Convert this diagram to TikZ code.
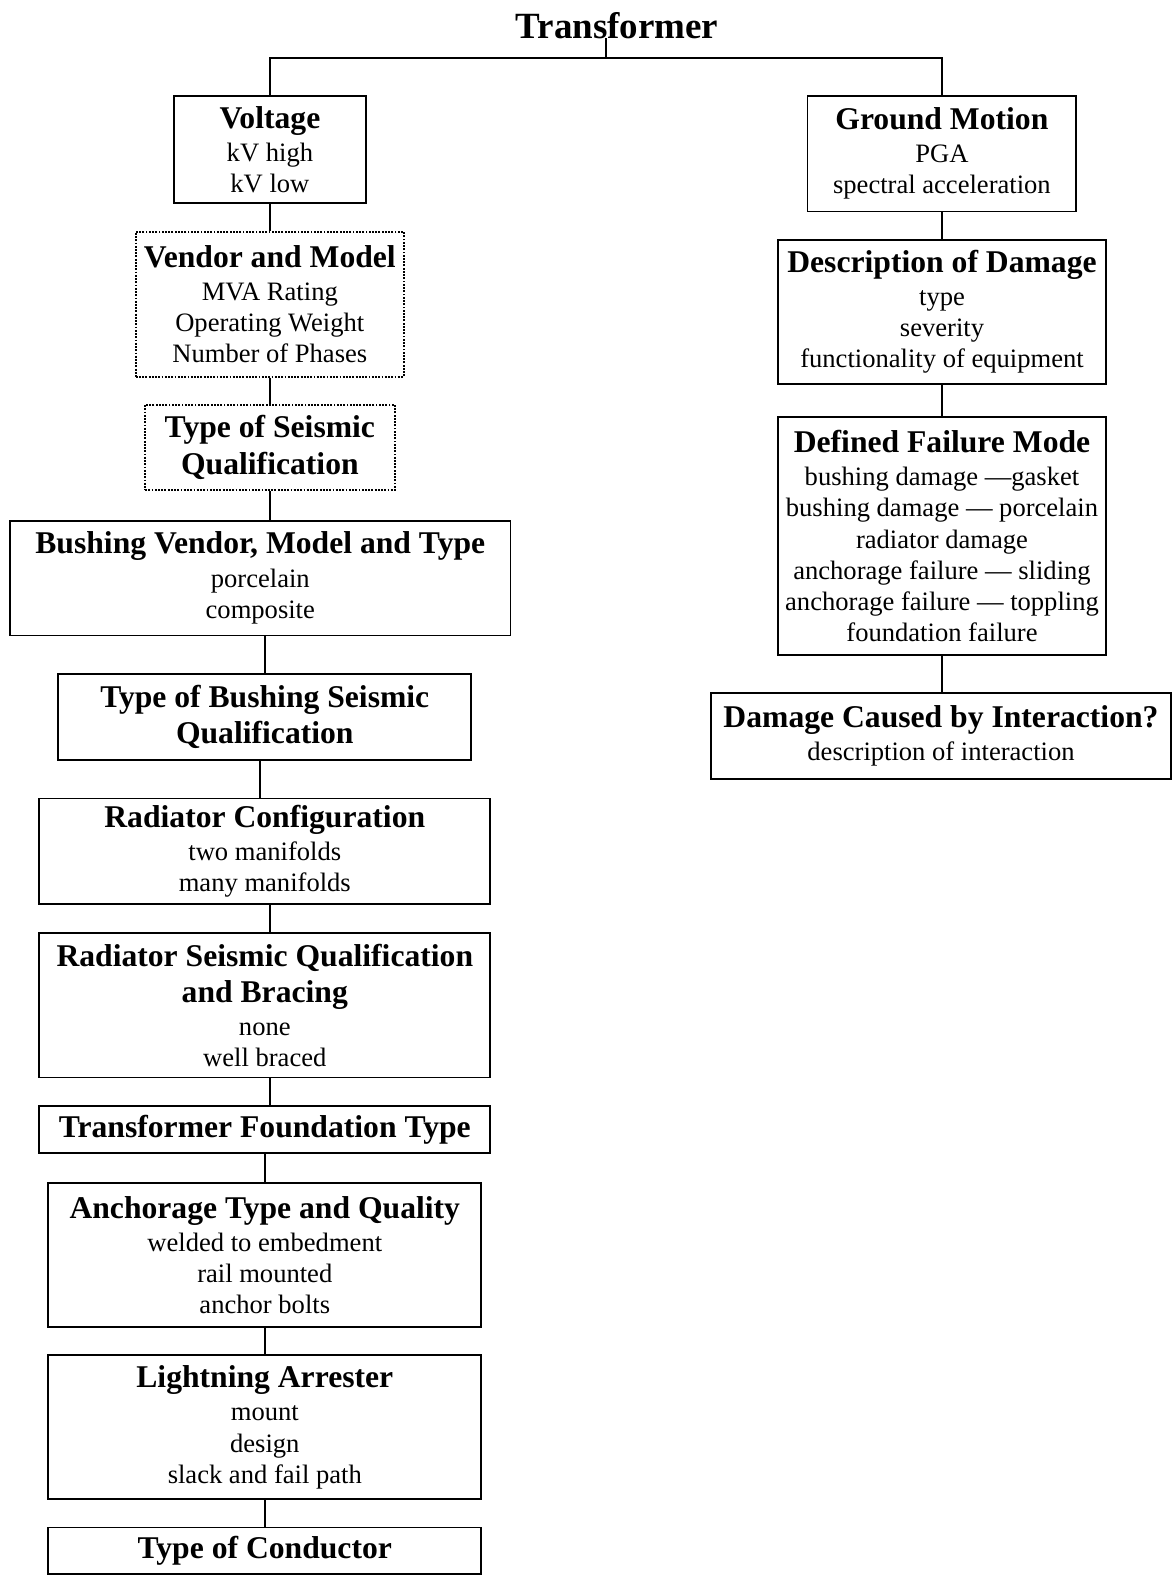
\documentclass[tikz,border=0pt]{standalone}
\usepackage{fontspec}
\setmainfont{Liberation Serif}
\newcommand{\boxhead}[1]{{\fontsize{22.5}{25.8}\selectfont\bfseries #1}}

\begin{document}
\begin{tikzpicture}[x=0.025cm, y=-0.025cm,
    box/.style={draw, line width=1.3pt, align=center, inner sep=1pt,
                font=\fontsize{18.9}{22.2}\selectfont},
    dotbox/.style={box, densely dotted},
    boxsize/.style 2 args={minimum width=#1cm, minimum height=#2cm}]
    \useasboundingbox (0,0) rectangle (1172,1579);

    % Title
    \node[font=\fontsize{26.3}{30}\selectfont\bfseries, inner sep=0pt, anchor=base] (title) at (617,38) {Transformer};
    \coordinate (split) at (606,58.4);

    % Left branch
    \node[box, boxsize={4.79}{2.69}] (volt) at (269.9,149.5)
        {\boxhead{Voltage}\\[1.4pt] kV high\\ kV low};
    \node[dotbox, boxsize={6.70}{3.625}] (vendor) at (269.8,304.1)
        {\boxhead{Vendor and Model}\\[1.4pt] MVA Rating\\ Operating Weight\\ Number of Phases};
    \node[dotbox, boxsize={6.24}{2.14}] (seistype) at (269.9,447.5)
        {\boxhead{Type of Seismic}\\[3.6pt] \boxhead{Qualification}};
    \node[box, boxsize={12.51}{2.87}] (bushing) at (260.3,578)
        {\boxhead{Bushing Vendor, Model and Type}\\[1.4pt] porcelain\\ composite};
    \node[box, boxsize={10.32}{2.165}] (bushqual) at (264.8,716.9)
        {\boxhead{Type of Bushing Seismic}\\[3.6pt] \boxhead{Qualification}};
    \node[box, boxsize={11.275}{2.64}] (radconf) at (264.8,851.3)
        {\boxhead{Radiator Configuration}\\[1.4pt] two manifolds\\ many manifolds};
    \node[box, boxsize={11.275}{3.6}] (radseis) at (264.8,1005.4)
        {\boxhead{Radiator Seismic Qualification}\\[3.6pt] \boxhead{and Bracing}\\[1.4pt] none\\ well braced};
    \node[box, boxsize={11.275}{1.18}] (found) at (264.8,1129.3)
        {\boxhead{Transformer Foundation Type}};
    \node[box, boxsize={10.825}{3.6}] (anchor) at (264.8,1255)
        {\boxhead{Anchorage Type and Quality}\\[1.4pt] welded to embedment\\ rail mounted\\ anchor bolts};
    \node[box, boxsize={10.825}{3.6}] (arrester) at (264.8,1427.3)
        {\boxhead{Lightning Arrester}\\[1.4pt] mount\\ design\\ slack and fail path};
    \node[box, boxsize={10.825}{1.16}] (conductor) at (264.8,1550.7)
        {\boxhead{Type of Conductor}};

    % Right branch
    \node[box, boxsize={6.72}{2.89}] (ground) at (941.9,153.6)
        {\boxhead{Ground Motion}\\[1.4pt] PGA\\ spectral acceleration};
    \node[box, boxsize={8.18}{3.6}] (damage) at (942,311.6)
        {\boxhead{Description of Damage}\\[1.4pt] type\\ severity\\ functionality of equipment};
    \node[box, boxsize={8.2}{5.95}] (failure) at (942,536)
        {\boxhead{Defined Failure Mode}\\[1.4pt] bushing damage —gasket\\ bushing damage — porcelain\\
         radiator damage\\ anchorage failure — sliding\\ anchorage failure — toppling\\ foundation failure};
    \node[box, boxsize={11.5}{2.15}] (interact) at (941,736)
        {\boxhead{Damage Caused by Interaction?}\\[1.4pt] description of interaction};

    % Connectors
    \draw[line width=1.3pt] (title.base -| split) -- (split);
    \draw[line width=1.3pt] (volt.north) |- (split) -| (ground.north);
    \foreach \a/\b/\xpos in {volt/vendor/270, vendor/seistype/270, seistype/bushing/270,
                             bushing/bushqual/265, bushqual/radconf/260, radconf/radseis/270,
                             radseis/found/270, found/anchor/265, anchor/arrester/265,
                             arrester/conductor/265, ground/damage/942, damage/failure/942,
                             failure/interact/942}
        \draw[line width=1.3pt] (\a.south -| \xpos,0) -- (\b.north -| \xpos,0);
\end{tikzpicture}
\end{document}
